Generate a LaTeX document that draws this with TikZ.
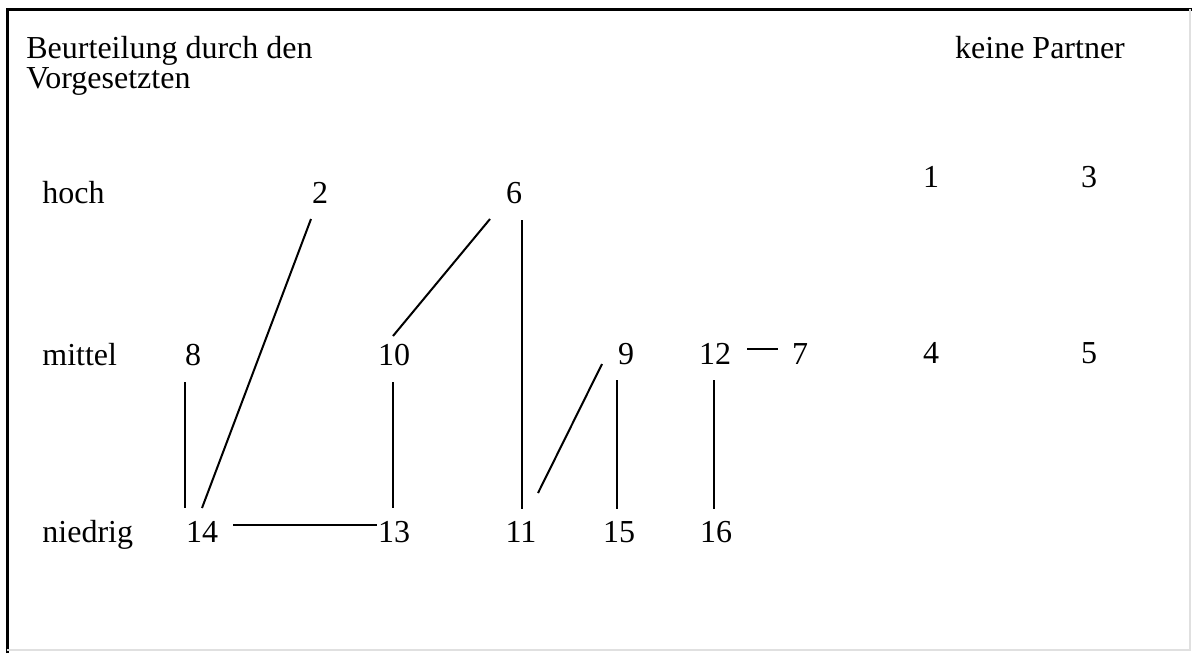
\documentclass[tikz,border=0pt]{standalone}
\usepackage{fontspec}
\setmainfont{Liberation Serif}
\usetikzlibrary{calc}

\tikzset{
  lbl/.style={inner sep=0pt, anchor=base, font=\fontsize{16}{15}\selectfont},
  link/.style={line width=1pt}
}

\begin{document}
\begin{tikzpicture}[x=0.5pt,y=-0.5pt]
\useasboundingbox (0,0) rectangle (1192,653);
\draw[line width=1.5pt] (7,653) -- (7,9) -- (1192,9);
\draw[black!12, line width=0.6pt] (1190,9) -- (1190,650) -- (7,650);

\node[lbl, anchor=base west] (hdr1) at (26,58) {Beurteilung durch den};
\node[lbl, anchor=base west] (hdr2) at (26,88) {Vorgesetzten};
\node[lbl] (none) at (1040,58) {keine Partner};

\node[lbl, anchor=base west] (hoch) at (42,203) {hoch};
\node[lbl, anchor=base west] (mittel) at (42,365) {mittel};
\node[lbl, anchor=base west] (niedrig) at (42,542) {niedrig};

% hoch
\node[lbl] (n2) at (320,203) {2};
\node[lbl] (n6) at (514,203) {6};
\node[lbl] (n1) at (931,187) {1};
\node[lbl] (n3) at (1089,187) {3};

% mittel
\node[lbl] (n8) at (193,365) {8};
\node[lbl] (n10) at (394,365) {10};
\node[lbl] (n9) at (626,364) {9};
\node[lbl] (n12) at (715,364) {12};
\node[lbl] (n7) at (800,364) {7};
\node[lbl] (n4) at (931,363) {4};
\node[lbl] (n5) at (1089,363) {5};

% niedrig
\node[lbl] (n14) at (202,542) {14};
\node[lbl] (n13) at (394,542) {13};
\node[lbl] (n11) at (521,542) {11};
\node[lbl] (n15) at (619,542) {15};
\node[lbl] (n16) at (716,542) {16};

\draw[link] ($(n8.base)+(-8,17)$) -- ($(n14.base)+(-17,-34)$);
\draw[link] ($(n2.base)+(-9,16)$) -- ($(n14.base)+(0,-34)$);
\draw[link] ($(n14.base)+(31,-17)$) -- ($(n13.base)+(-17,-17)$);
\draw[link] ($(n10.base)+(-1,17)$) -- ($(n13.base)+(-1,-34)$);
\draw[link] ($(n6.base)+(-24,16)$) -- ($(n10.base)+(-1,-29)$);
\draw[link] ($(n6.base)+(8,17)$) -- ($(n11.base)+(1,-33)$);
\draw[link] ($(n9.base)+(-24,0)$) -- ($(n11.base)+(17,-49)$);
\draw[link] ($(n9.base)+(-9,16)$) -- ($(n15.base)+(-2,-33)$);
\draw[link] ($(n12.base)+(-1,16)$) -- ($(n16.base)+(-2,-33)$);
\draw[link] ($(n12.base)+(32,-15)$) -- ($(n7.base)+(-22,-15)$);
\end{tikzpicture}
\end{document}
